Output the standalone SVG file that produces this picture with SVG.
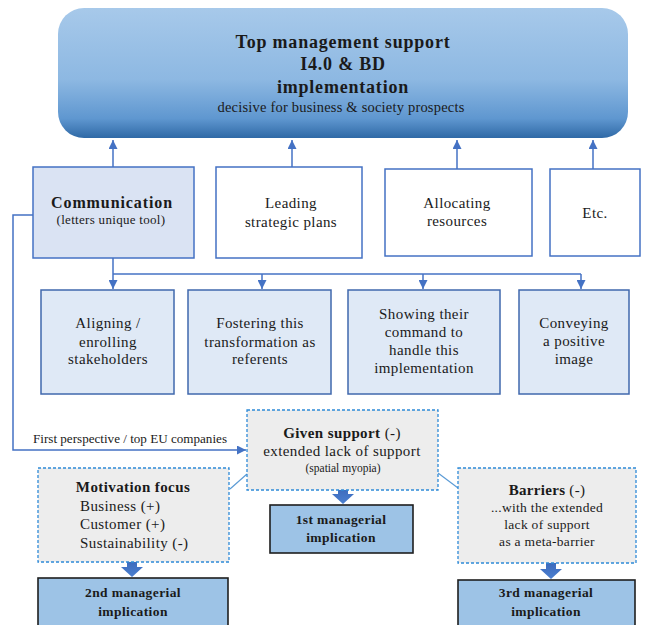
<svg xmlns="http://www.w3.org/2000/svg" width="646" height="625" viewBox="0 0 646 625">
<defs>
<linearGradient id="topg" x1="0" y1="0" x2="0" y2="1">
<stop offset="0" stop-color="#a7c9ea"/>
<stop offset="0.55" stop-color="#8db8e2"/>
<stop offset="0.85" stop-color="#5f97d0"/>
<stop offset="1" stop-color="#2f69a6"/>
</linearGradient>
<linearGradient id="blk" x1="0" y1="0" x2="0" y2="1">
<stop offset="0" stop-color="#3a66b8"/>
<stop offset="1" stop-color="#4a7fd0"/>
</linearGradient>
<marker id="ah" viewBox="0 0 10 10" refX="10" refY="5" markerWidth="9" markerHeight="9" markerUnits="userSpaceOnUse" orient="auto">
<path d="M0,0 L10,5 L0,10 z" fill="#4472c4"/>
</marker>
<style>
text{font-family:"Liberation Serif","Times New Roman",serif;fill:#1a1a1a;text-anchor:middle}
.b{font-weight:bold}
.t15{font-size:15px;letter-spacing:0.4px}
.t13{font-size:13.5px;letter-spacing:0.3px}
.sq{fill:#ffffff;stroke:#4472c4;stroke-width:1.5}
.sqc{fill:#dae3f3;stroke:#4472c4;stroke-width:1.5}
.lb{fill:#dfe9f6;stroke:#4068ad;stroke-width:1.5}
.dash{fill:#ededed;stroke:#2e8ad8;stroke-width:1.3;stroke-dasharray:3,2}
.mi{fill:#9dc3e6;stroke:#1f1f1f;stroke-width:1.6}
.ln{fill:none;stroke:#4472c4;stroke-width:1.5}
.dg{fill:none;stroke:#5b9bd5;stroke-width:1.2}
.ba{fill:url(#blk)}
</style>
</defs>

<g id="top">
<rect x="58" y="8" width="570" height="130" rx="26" ry="26" fill="url(#topg)"/>
<text x="343" y="48" class="b" font-size="18" letter-spacing="0.8">Top management support</text>
<text x="343" y="70" class="b" font-size="18" letter-spacing="0.8">I4.0 &amp; BD</text>
<text x="343" y="93" class="b" font-size="18" letter-spacing="0.8">implementation</text>
<text x="341" y="112" font-size="14.5" letter-spacing="0.2">decisive for business &amp; society prospects</text>
</g>

<g id="connectors">
<line class="ln" x1="113" y1="168" x2="113" y2="140" marker-end="url(#ah)"/>
<line class="ln" x1="292" y1="168" x2="292" y2="140" marker-end="url(#ah)"/>
<line class="ln" x1="457" y1="169" x2="457" y2="140" marker-end="url(#ah)"/>
<line class="ln" x1="593" y1="169" x2="593" y2="140" marker-end="url(#ah)"/>
<line class="ln" x1="113" y1="258" x2="113" y2="289" marker-end="url(#ah)"/>
<line class="ln" x1="113" y1="274" x2="581" y2="274"/>
<line class="ln" x1="262" y1="274" x2="262" y2="289" marker-end="url(#ah)"/>
<line class="ln" x1="423" y1="274" x2="423" y2="289" marker-end="url(#ah)"/>
<line class="ln" x1="581" y1="274" x2="581" y2="289" marker-end="url(#ah)"/>
<path class="ln" d="M33,215 H13 V450 H246" marker-end="url(#ah)"/>
<text x="130" y="443" font-size="12" textLength="194" lengthAdjust="spacingAndGlyphs">First perspective / top EU companies</text>
<line class="dg" x1="230" y1="489" x2="247" y2="474"/>
<line class="dg" x1="438" y1="473" x2="458" y2="488"/>
<path class="ba" d="M338,485 H348 V494 H354 L343,504 L332,494 H338 z"/>
<path class="ba" d="M127,558 H137 V567 H143 L132,577 L121,567 H127 z"/>
<path class="ba" d="M546,560 H556 V569 H562 L551,579 L540,569 H546 z"/>
</g>

<g id="communication">
<rect class="sqc" x="33" y="167" width="161" height="91"/>
<text x="112" y="208" class="b" font-size="16" letter-spacing="0.9">Communication</text>
<text x="111" y="224" font-size="13" letter-spacing="0.3">(letters unique tool)</text>
</g>
<g id="leading">
<rect class="sq" x="216" y="167" width="146" height="91"/>
<text x="291" y="208" class="t15">Leading</text>
<text x="291" y="227" class="t15">strategic plans</text>
</g>
<g id="allocating">
<rect class="sq" x="385" y="169" width="147" height="87"/>
<text x="457" y="208" class="t15">Allocating</text>
<text x="457" y="226" class="t15">resources</text>
</g>
<g id="etc">
<rect class="sq" x="550" y="169" width="90" height="87"/>
<text x="595" y="218" class="t15">Etc.</text>
</g>

<g id="aligning">
<rect class="lb" x="41" y="290" width="133" height="104"/>
<text x="108" y="328" class="t15">Aligning /</text>
<text x="108" y="347" class="t15">enrolling</text>
<text x="108" y="364" class="t15">stakeholders</text>
</g>
<g id="fostering">
<rect class="lb" x="188" y="290" width="143" height="104"/>
<text x="260" y="328" class="t15">Fostering this</text>
<text x="260" y="347" class="t15">transformation as</text>
<text x="260" y="364" class="t15">referents</text>
</g>
<g id="showing">
<rect class="lb" x="348" y="290" width="152" height="104"/>
<text x="424" y="319" class="t15">Showing their</text>
<text x="424" y="337" class="t15">command to</text>
<text x="424" y="355" class="t15">handle this</text>
<text x="424" y="373" class="t15">implementation</text>
</g>
<g id="conveying">
<rect class="lb" x="519" y="290" width="110" height="104"/>
<text x="574" y="328" class="t15">Conveying</text>
<text x="574" y="346" class="t15">a positive</text>
<text x="574" y="364" class="t15">image</text>
</g>

<g id="given">
<rect class="dash" x="247" y="410" width="191" height="80"/>
<text x="342" y="438" font-size="15" letter-spacing="0.4"><tspan class="b">Given support</tspan> (-)</text>
<text x="342" y="456" class="t15">extended lack of support</text>
<text x="343" y="472" font-size="11.5">(spatial myopia)</text>
</g>
<g id="motivation">
<rect class="dash" x="38" y="468" width="191" height="94"/>
<text x="133" y="492" class="b" font-size="15" letter-spacing="0.4">Motivation focus</text>
<text x="80" y="511" class="t15" text-anchor="start" style="text-anchor:start">Business (+)</text>
<text x="80" y="529" class="t15" style="text-anchor:start">Customer (+)</text>
<text x="80" y="548" class="t15" style="text-anchor:start">Sustainability (-)</text>
</g>
<g id="barriers">
<rect class="dash" x="458" y="468" width="178" height="95"/>
<text x="547" y="495" font-size="15" letter-spacing="0.3"><tspan class="b">Barriers</tspan> (-)</text>
<text x="547" y="512" class="t13">...with the extended</text>
<text x="547" y="529" class="t13">lack of support</text>
<text x="547" y="546" class="t13">as a meta-barrier</text>
</g>

<g id="impl1">
<rect class="mi" x="270" y="505" width="143" height="48"/>
<text x="341" y="524" class="b" font-size="13.5" letter-spacing="0.4">1st managerial</text>
<text x="341" y="542" class="b" font-size="13.5" letter-spacing="0.4">implication</text>
</g>
<g id="impl2">
<rect class="mi" x="38" y="578" width="190" height="52"/>
<text x="133" y="597" class="b" font-size="13.5" letter-spacing="0.4">2nd managerial</text>
<text x="133" y="616" class="b" font-size="13.5" letter-spacing="0.4">implication</text>
</g>
<g id="impl3">
<rect class="mi" x="458" y="580" width="177" height="50"/>
<text x="546" y="597" class="b" font-size="13.5" letter-spacing="0.4">3rd managerial</text>
<text x="546" y="616" class="b" font-size="13.5" letter-spacing="0.4">implication</text>
</g>
</svg>
